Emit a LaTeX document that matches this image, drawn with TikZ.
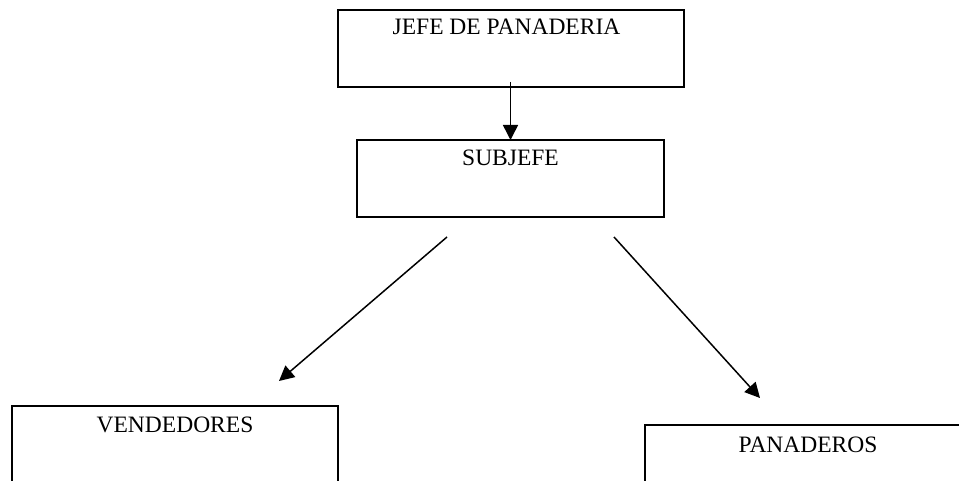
\documentclass[tikz,border=0pt]{standalone}
\usepackage{fontspec}
\setmainfont{Liberation Serif}
\usetikzlibrary{arrows.meta}
\begin{document}
\begin{tikzpicture}[x=1pt,y=-1pt,
  box/.style={draw=black,line width=2pt,rectangle,inner sep=0pt,outer sep=0pt},
  lbl/.style={inner sep=0pt,anchor=base,font=\fontsize{23.5}{28}\selectfont},
  arr/.style={draw=black,line width=1.5pt,-{Triangle[length=15pt,width=15pt]}}]
\useasboundingbox (0,0) rectangle (959,481);
\clip (0,0) rectangle (959,481);
% boxes
\node[box,minimum width=346pt,minimum height=77pt] (jefe) at (511,48.5) {};
\node[box,minimum width=307pt,minimum height=77pt] (sub) at (510.5,178.5) {};
\node[box,minimum width=326pt,minimum height=140pt] (vend) at (175,476) {};
\node[box,minimum width=380pt,minimum height=140pt] (pan) at (835,495) {};
% labels
\node[lbl] (tjefe) at (506.5,35) {JEFE DE PANADERIA};
\node[lbl] (tsub) at (510.5,166) {SUBJEFE};
\node[lbl] (tvend) at (175,432) {VENDEDORES};
\node[lbl] (tpan) at (808,452) {PANADEROS};
% connector ends
\coordinate (c0) at (510.5,82);
\coordinate (l0) at (447,237);
\coordinate (l1) at (279,381);
\coordinate (r0) at (614,237);
\coordinate (r1) at (760,398);
% arrows
\draw[arr] (c0) -- (sub.north);
\draw[arr] (l0) -- (l1);
\draw[arr] (r0) -- (r1);
\end{tikzpicture}
\end{document}
